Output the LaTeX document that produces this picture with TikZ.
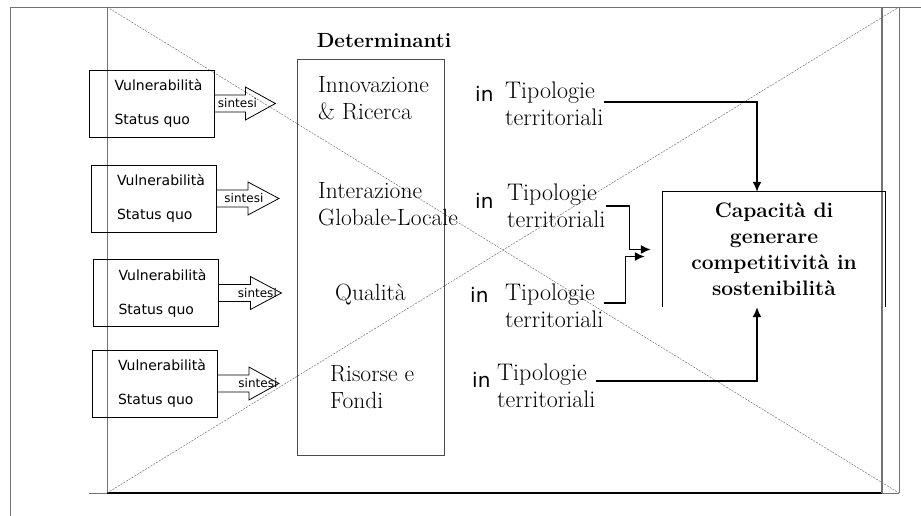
\documentclass[tikz,border=0pt]{standalone}
\usepackage{fontspec}
\newfontfamily\boxfont{DejaVu Sans}
\usetikzlibrary{positioning,arrows.meta,calc}

\begin{document}
\begin{tikzpicture}[
            x=1pt, y=-1pt,
            frame/.style={draw=black!55, line width=0.8pt},
            cross/.style={draw=black!60, dash pattern=on 2pt off 1.2pt, line width=0.45pt},
            vbox/.style={rectangle, draw, line width=0.8pt, minimum width=125pt, minimum height=67pt,
                         align=left, inner sep=0pt, font=\boxfont\fontsize{14}{34}\selectfont},
            sarrow/.style={draw, line width=0.8pt, line join=miter},
            stxt/.style={inner sep=0pt, font=\boxfont\fontsize{12}{14}\selectfont},
            dbox/.style={rectangle, draw=black!70, line width=1pt, minimum width=147pt, minimum height=395pt},
            dtxt/.style={align=left, inner sep=0pt, font=\fontsize{23.5}{27}\selectfont},
            intxt/.style={inner sep=0pt, font=\boxfont\fontsize{20}{22}\selectfont},
            ttxt/.style={align=left, inner sep=0pt, font=\fontsize{24}{27}\selectfont},
            captxt/.style={align=center, inner sep=0pt, minimum width=222pt, minimum height=115pt,
                           font=\bfseries\fontsize{21}{26}\selectfont},
            flow/.style={-{Latex[length=10pt,width=9pt]}, line width=1.6pt}
        ]
        \useasboundingbox (0,0) rectangle (921,516);

        % placeholder frame
        \draw[frame] (10,516) -- (10,7) -- (921,7);
        \draw[frame, line width=0.5pt] (107,7) -- (107,493);
        \draw[frame, line width=0.5pt] (89,493) -- (107,493);
        \draw[line width=1.4pt] (107,493) -- (882,493);
        \draw[frame, line width=0.5pt] (882,493) -- (899,493);
        \draw[frame, line width=1.4pt] (882,7) -- (882,493);
        \draw[frame, line width=0.5pt] (899,7) -- (899,493);
        \draw[cross] (107,7) -- (899,493);
        \draw[cross] (107,493) -- (899,7);

        % left boxes
        \node[vbox] (v1) at (151.5,103.5) {\hspace*{14pt}Vulnerabilità\\\hspace*{14pt}Status quo};
        \node[vbox] (v2) at (154,198.5) {\hspace*{14pt}Vulnerabilità\\\hspace*{14pt}Status quo};
        \node[vbox] (v3) at (155.5,293) {\hspace*{14pt}Vulnerabilità\\\hspace*{14pt}Status quo};
        \node[vbox] (v4) at (155,383.5) {\hspace*{14pt}Vulnerabilità\\\hspace*{14pt}Status quo};

        \draw[sarrow] ($(v1.east)+(0,-8.5)$) -- ++(31,0) -- ++(0,-8) -- ++(30,16.5) -- ++(-30,16.5) -- ++(0,-8) -- ++(-31,0);
        \draw[sarrow] ($(v2.east)+(0,-8.5)$) -- ++(31,0) -- ++(0,-8) -- ++(31,16.5) -- ++(-31,16.5) -- ++(0,-8) -- ++(-31,0);
        \draw[sarrow] ($(v3.east)+(0,-8.5)$) -- ++(32,0) -- ++(0,-8) -- ++(31,16.5) -- ++(-31,16.5) -- ++(0,-8) -- ++(-32,0);
        \draw[sarrow] ($(v4.east)+(0,-8.5)$) -- ++(31,0) -- ++(0,-8) -- ++(30,16.5) -- ++(-30,16.5) -- ++(0,-8) -- ++(-31,0);

        \node[stxt] (s1) at ($(v1.east)+(23,0)$) {sintesi};
        \node[stxt] (s2) at ($(v2.east)+(27,0)$) {sintesi};
        \node[stxt] (s3) at ($(v3.east)+(39,0)$) {sintesi};
        \node[stxt] (s4) at ($(v4.east)+(40,0)$) {sintesi};

        % determinanti
        \node[dbox] (det) at (370.5,257.5) {};
        \node[anchor=base, inner sep=0pt, font=\bfseries\fontsize{20.5}{22}\selectfont] (dtitle) at (384,48) {Determinanti};
        \node[dtxt, anchor=west] (d1) at (318,98) {Innovazione\\\& Ricerca};
        \node[dtxt, anchor=west] (d2) at (318,204) {Interazione\\Globale-Locale};
        \node[dtxt, anchor=base west] (d3) at (335,300) {Qualità};
        \node[dtxt, anchor=west] (d4) at (330,387) {Risorse e\\Fondi};

        % tipologie
        \node[intxt, anchor=base west] (in1) at (475,102) {in};
        \node[intxt, anchor=base west] (in2) at (475,208) {in};
        \node[intxt, anchor=base west] (in3) at (470,302) {in};
        \node[intxt, anchor=base west] (in4) at (472,387) {in};
        \node[ttxt, anchor=west] (t1) at (505,104) {Tipologie\\territoriali};
        \node[ttxt, anchor=west] (t2) at (507,206) {Tipologie\\territoriali};
        \node[ttxt, anchor=west] (t3) at (505,306) {Tipologie\\territoriali};
        \node[ttxt, anchor=west] (t4) at (497,386) {Tipologie\\territoriali};

        % capacita
        \node[captxt] (cap) at (774,249.5) {Capacità di\\generare\\competitività in\\sostenibilità};
        \draw[line width=0.8pt] (cap.south west) |- (cap.north east) -- (cap.south east);

        \draw[flow] ([yshift=2pt]t1.east) -| ([xshift=-17pt]cap.north);
        \draw[flow] (t2.east) -- ++(24,0) |- ([xshift=-12pt]cap.west);
        \draw[flow] ([yshift=3pt]t3.east) -- ++(22,0) |- ([xshift=-18pt,yshift=-7pt]cap.west);
        \draw[flow] ([yshift=5pt]t4.east) -| ([xshift=-17pt]cap.south);
        \end{tikzpicture}
\end{document}
